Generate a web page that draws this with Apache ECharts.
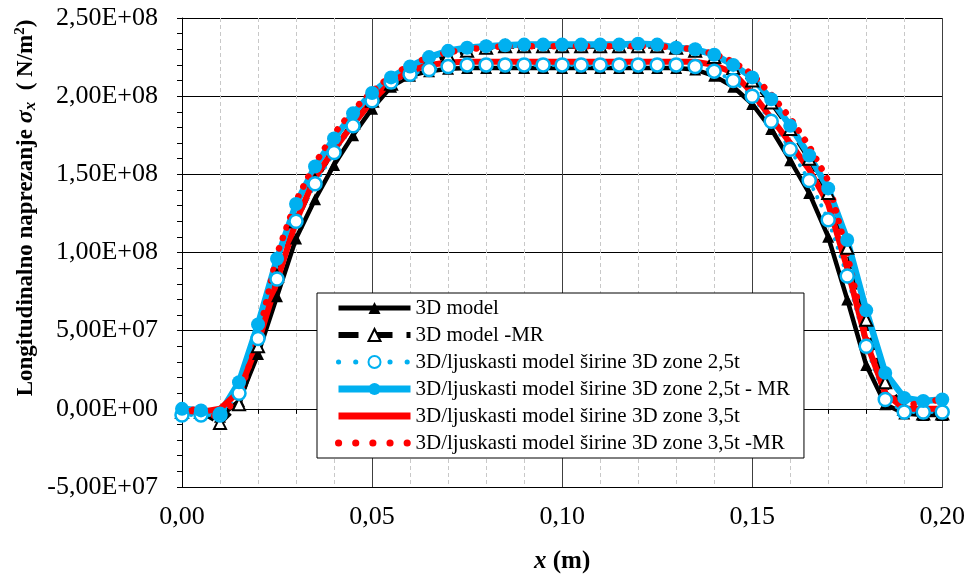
<!DOCTYPE html>
<html>
<head>
<meta charset="utf-8">
<script src="https://cdn.jsdelivr.net/npm/echarts@6/dist/echarts.min.js"></script>
<style>
  html, body { margin: 0; padding: 0; background: #fff; }
  #chart { width: 968px; height: 579px; }
</style>
</head>
<body>
<div id="chart"></div>
<script>
// x positions (m)
var xs = [0, 0.005, 0.01, 0.015, 0.02, 0.025, 0.03, 0.035, 0.04, 0.045,
  0.05, 0.055, 0.06, 0.065, 0.07, 0.075, 0.08, 0.085, 0.09, 0.095,
  0.10, 0.105, 0.11, 0.115, 0.12, 0.125, 0.13, 0.135, 0.14, 0.145,
  0.15, 0.155, 0.16, 0.165, 0.17, 0.175, 0.18, 0.185, 0.19, 0.195, 0.20];

// stresses in units of 1E+08 N/m2
var model3d = [-0.02, -0.02, -0.05, 0.05, 0.35, 0.72, 1.09, 1.34, 1.56, 1.75,
  1.92, 2.06, 2.13, 2.16, 2.175, 2.18, 2.18, 2.18, 2.18, 2.18,
  2.18, 2.18, 2.18, 2.18, 2.18, 2.18, 2.18, 2.17, 2.13, 2.06,
  1.95, 1.79, 1.59, 1.38, 1.10, 0.70, 0.28, 0.03, -0.03, -0.04, -0.04];
var model3dMR = [-0.02, -0.02, -0.09, 0.03, 0.40, 0.85, 1.20, 1.46, 1.66, 1.83,
  1.97, 2.08, 2.16, 2.22, 2.26, 2.29, 2.31, 2.32, 2.32, 2.32,
  2.32, 2.32, 2.32, 2.32, 2.32, 2.32, 2.31, 2.29, 2.25, 2.18,
  2.10, 1.96, 1.79, 1.60, 1.38, 1.03, 0.57, 0.17, 0.0, -0.03, -0.03];
var shell25 = [-0.04, -0.04, -0.04, 0.10, 0.45, 0.83, 1.20, 1.44, 1.64, 1.81,
  1.97, 2.09, 2.14, 2.17, 2.19, 2.20, 2.20, 2.20, 2.20, 2.20,
  2.20, 2.20, 2.20, 2.20, 2.20, 2.20, 2.20, 2.19, 2.16, 2.10,
  2.00, 1.84, 1.66, 1.46, 1.21, 0.85, 0.40, 0.06, -0.02, -0.02, -0.02];
var shell25MR = [0, -0.01, -0.03, 0.17, 0.54, 0.96, 1.31, 1.55, 1.73, 1.89,
  2.02, 2.12, 2.19, 2.25, 2.29, 2.31, 2.32, 2.325, 2.33, 2.33,
  2.33, 2.33, 2.33, 2.33, 2.335, 2.33, 2.31, 2.30, 2.265, 2.20,
  2.12, 1.98, 1.81, 1.62, 1.41, 1.08, 0.63, 0.23, 0.07, 0.05, 0.06];
var shell35 = [-0.01, -0.02, 0.0, 0.11, 0.42, 0.82, 1.20, 1.48, 1.66, 1.82,
  1.97, 2.09, 2.16, 2.20, 2.215, 2.22, 2.22, 2.22, 2.22, 2.22,
  2.22, 2.22, 2.22, 2.22, 2.22, 2.22, 2.22, 2.22, 2.20, 2.15,
  2.02, 1.86, 1.70, 1.53, 1.31, 0.90, 0.43, 0.10, 0.0, 0.0, 0.0];
var shell35MR = [0, -0.01, -0.06, 0.08, 0.45, 0.99, 1.33, 1.57, 1.76, 1.91,
  2.03, 2.13, 2.20, 2.25, 2.28, 2.30, 2.31, 2.32, 2.32, 2.32,
  2.32, 2.32, 2.32, 2.32, 2.32, 2.32, 2.31, 2.30, 2.27, 2.22,
  2.14, 2.01, 1.86, 1.68, 1.46, 0.99, 0.45, 0.10, 0.02, 0.04, 0.06];

var names = [
  '3D model',
  '3D model -MR',
  '3D/ljuskasti model širine 3D zone 2,5t',
  '3D/ljuskasti model širine 3D zone 2,5t - MR',
  '3D/ljuskasti model širine 3D zone 3,5t',
  '3D/ljuskasti model širine 3D zone 3,5t -MR'
];

var FONT = 'Liberation Serif';
var BLUE = '#00b0f0';
var RED = '#ff0000';
var NOSYM = { color: 'rgba(0,0,0,0)', borderWidth: 0 };

function pairs(ys) {
  var out = [];
  for (var i = 0; i < xs.length; i++) {
    out.push([xs[i], ys[i]]);
  }
  return out;
}

function sciLabel(v) {
  var n = v * 1e8;
  if (Math.abs(n) < 1) return '0,00E+00';
  var e = Math.floor(Math.log10(Math.abs(n)) + 1e-9);
  var m = n / Math.pow(10, e);
  return m.toFixed(2).replace('.', ',') + 'E+' + (e < 10 ? '0' + e : e);
}

var myChart = echarts.init(document.getElementById('chart'));

var option = {
  animation: false,
  grid: {
    left: 182,
    right: 25,
    top: 18,
    bottom: 87
  },
  legend: {
    orient: 'vertical',
    left: 317,
    top: 293,
    padding: [4, 14, 4, 18],
    backgroundColor: '#fff',
    borderColor: '#000',
    borderWidth: 1,
    itemWidth: 72,
    itemHeight: 15,
    itemGap: 5,
    textStyle: {
      fontFamily: FONT,
      fontSize: 21,
      color: '#000',
      lineHeight: 22
    },
    data: [
      { name: names[0], lineStyle: { width: 5, type: 'solid' } },
      { name: names[1], lineStyle: { width: 6, type: [20, 14], cap: 'butt' } },
      { name: names[2], lineStyle: { width: 5, type: [0.15, 17], cap: 'round' } },
      { name: names[3], lineStyle: { width: 7, type: 'solid' } },
      { name: names[4], lineStyle: { width: 7, type: 'solid' }, itemStyle: NOSYM },
      { name: names[5], lineStyle: { width: 7, type: [0.15, 17], cap: 'round' }, itemStyle: NOSYM }
    ]
  },
  xAxis: [
    {
      type: 'value',
      position: 'bottom',
      min: 0,
      max: 0.2,
      interval: 0.05,
      name: '{i|x}{b| (m)}',
      nameLocation: 'middle',
      nameGap: 62,
      nameTextStyle: {
        rich: {
          i: { fontFamily: FONT, fontSize: 25, fontWeight: 'bold', fontStyle: 'italic', color: '#000' },
          b: { fontFamily: FONT, fontSize: 25, fontWeight: 'bold', color: '#000' }
        }
      },
      axisLine: { onZero: false, lineStyle: { color: '#000', width: 1 } },
      axisTick: { show: false },
      axisLabel: {
        fontFamily: FONT,
        fontSize: 26,
        color: '#000',
        margin: 17,
        formatter: function (v) { return v.toFixed(2).replace('.', ','); }
      },
      splitLine: { show: true, lineStyle: { color: '#404040', width: 1 } },
      minorTick: { show: false, splitNumber: 5 },
      minorSplitLine: { show: true, lineStyle: { color: '#c8c8c8', width: 1, type: [4, 3] } }
    },
    {
      type: 'value',
      position: 'bottom',
      min: 0,
      max: 0.2,
      interval: 0.05,
      axisLine: { onZero: true, lineStyle: { color: '#000', width: 1 } },
      axisTick: { show: true, length: 5, lineStyle: { color: '#000' } },
      minorTick: { show: true, splitNumber: 5, length: 5, lineStyle: { color: '#000' } },
      axisLabel: { show: false },
      splitLine: { show: false }
    }
  ],
  yAxis: {
    type: 'value',
    min: -0.5,
    max: 2.5,
    interval: 0.5,
    axisLine: { show: true, onZero: false, lineStyle: { color: '#000', width: 1 } },
    axisTick: { show: true, length: 5, lineStyle: { color: '#000' } },
    minorTick: { show: true, splitNumber: 5, length: 5, lineStyle: { color: '#000' } },
    axisLabel: {
      fontFamily: FONT,
      fontSize: 26,
      color: '#000',
      margin: 24,
      formatter: sciLabel
    },
    splitLine: { show: true, lineStyle: { color: '#000', width: 1 } }
  },
  graphic: [
    {
      type: 'text',
      x: 26,
      y: 208,
      rotation: Math.PI / 2,
      style: {
        text: '{b|Longitudinalno naprezanje }{s|σ}{sub|x}{b|  ( N/m}{sup|2}{b|)}',
        align: 'center',
        verticalAlign: 'middle',
        rich: {
          b: { fontFamily: FONT, fontSize: 23, fontWeight: 'bold', fill: '#000' },
          s: { fontFamily: FONT, fontSize: 24, fontWeight: 'bold', fontStyle: 'italic', fill: '#000' },
          sub: { fontFamily: FONT, fontSize: 17, fontWeight: 'bold', fontStyle: 'italic', fill: '#000', verticalAlign: 'bottom', padding: [10, 0, 0, 0] },
          sup: { fontFamily: FONT, fontSize: 15, fontWeight: 'bold', fill: '#000', verticalAlign: 'top', padding: [0, 0, 10, 0] }
        }
      }
    }
  ],
  series: [
    {
      name: names[0],
      type: 'line',
      data: pairs(model3d),
      symbol: 'triangle',
      symbolSize: 12,
      lineStyle: { color: '#000', width: 4.5 },
      itemStyle: { color: '#000' }
    },
    {
      name: names[1],
      type: 'line',
      data: pairs(model3dMR),
      symbol: 'triangle',
      symbolSize: 12,
      lineStyle: { color: '#000', width: 5, type: [13, 8] },
      itemStyle: { color: '#fff', borderColor: '#000', borderWidth: 2 }
    },
    {
      name: names[2],
      type: 'line',
      data: pairs(shell25),
      symbol: 'circle',
      symbolSize: 13,
      lineStyle: { color: BLUE, width: 4, type: [0.1, 9], cap: 'round' },
      itemStyle: { color: '#fff', borderColor: BLUE, borderWidth: 2.5 }
    },
    {
      name: names[3],
      type: 'line',
      data: pairs(shell25MR),
      symbol: 'circle',
      symbolSize: 14,
      lineStyle: { color: BLUE, width: 6.5 },
      itemStyle: { color: BLUE }
    },
    {
      name: names[4],
      type: 'line',
      data: pairs(shell35),
      symbol: 'none',
      lineStyle: { color: RED, width: 6 },
      itemStyle: { color: RED }
    },
    {
      name: names[5],
      type: 'line',
      data: pairs(shell35MR),
      symbol: 'none',
      lineStyle: { color: RED, width: 6.5, type: [0.1, 11], cap: 'round' },
      itemStyle: { color: RED }
    }
  ]
};

myChart.setOption(option);
</script>
</body>
</html>
